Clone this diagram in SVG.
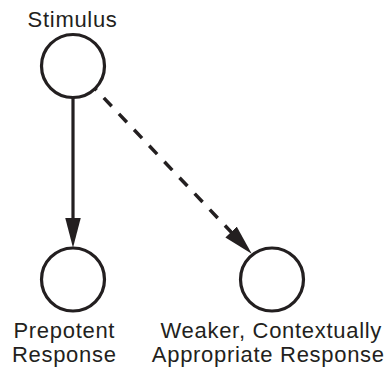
<svg xmlns="http://www.w3.org/2000/svg" width="390" height="372" viewBox="0 0 390 372">
<style>
.node{fill:#ffffff;stroke:#231f20;stroke-width:3.2}
.lbl{font-family:"Liberation Sans",Arial,sans-serif;font-size:22px;letter-spacing:0.7px;fill:#231f20;text-anchor:middle}
.edge{stroke:#231f20;stroke-width:3.2;fill:none}
.dash{stroke-width:3.5;stroke-dasharray:11.5 10.5}
</style>
<defs>
<marker id="arrow" markerUnits="userSpaceOnUse" markerWidth="30" markerHeight="16" viewBox="0 0 28 14.6" refX="14" refY="7.3" orient="auto">
<path d="M0,0 L28,7.3 L0,14.6 z" fill="#231f20"/>
</marker>
</defs>
<g id="connectors">
<line class="edge" x1="73" y1="66" x2="73" y2="232.7" marker-end="url(#arrow)"/>
<line class="edge dash" x1="73.5" y1="66" x2="241.4" y2="242.9" marker-end="url(#arrow)"/>
</g>
<g id="stimulus">
<circle class="node" cx="73" cy="66" r="31.5"/>
<text class="lbl" x="72.6" y="27">Stimulus</text>
</g>
<g id="prepotent">
<circle class="node" cx="73" cy="279.5" r="31.5"/>
<text class="lbl" x="64.3" y="338.3">Prepotent</text>
<text class="lbl" x="64.3" y="361.7">Response</text>
</g>
<g id="weaker">
<circle class="node" cx="272" cy="279.5" r="31.5"/>
<text class="lbl" x="271.3" y="338">Weaker, Contextually</text>
<text class="lbl" x="268.3" y="361.7">Appropriate Response</text>
</g>
</svg>
